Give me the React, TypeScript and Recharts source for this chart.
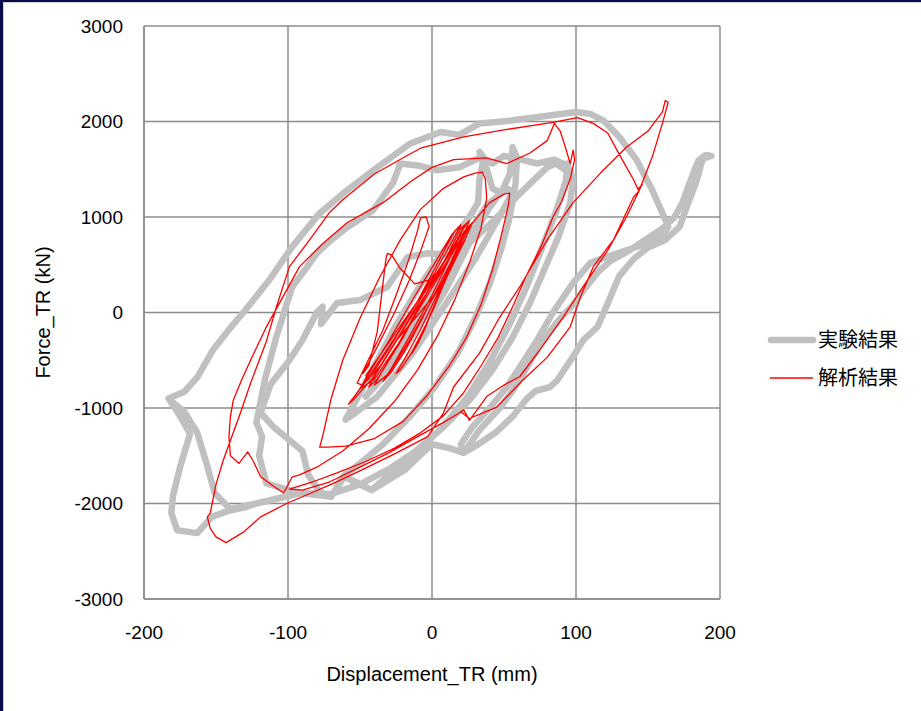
import React from 'react';
import { LineChart, Line, XAxis, YAxis, CartesianGrid } from 'recharts';

type Pt = [number, number];

const xTicks = [-200, -100, 0, 100, 200];
const yTicks = [-3000, -2000, -1000, 0, 1000, 2000, 3000];

const expName = '実験結果';
const anaName = '解析結果';

const expCore: Pt[] = [
  [0, 0], [10, 250], [20, 550], [30, 850], [26, 820], [12, 480], [-4, 120], [-18, -260], [-30, -560], [-24, -480], [-10, -160],
  [5, 200], [20, 620], [34, 980], [44, 1180], [40, 1100], [26, 740], [6, 260], [-14, -240], [-34, -680], [-46, -880], [-38, -720], [-20, -320],
  [0, 180], [18, 660], [38, 1120], [52, 1300], [56, 1260], [46, 980], [30, 560], [10, 100], [-14, -440], [-38, -880], [-54, -1060], [-60, -1120],
];

const expMid1: Pt[] = [
  [-52, -900], [-40, -560], [-26, -160], [-10, 240], [4, 560], [16, 800], [26, 1000], [32, 1150], [33, 1400], [36, 1620], [33, 1680],
  [38, 1500], [42, 1300], [48, 1250], [54, 1450], [56, 1730], [59, 1620], [58, 1350], [54, 1000], [48, 660], [40, 300], [30, -60],
  [18, -420], [2, -780], [-16, -1100], [-34, -1380], [-50, -1580], [-62, -1720], [-70, -1930], [-78, -1880], [-86, -1700], [-90, -1450],
];

const expMid2: Pt[] = [
  [-110, -1200], [-119, -1050], [-112, -750], [-100, -520], [-90, -290], [-80, 0], [-76, 60], [-77, -120], [-70, 20], [-66, 100],
  [-50, 130], [-31, 270], [-17, 580], [-3, 620], [15, 600], [30, 780], [44, 980], [58, 1200], [73, 1420], [80, 1520], [86, 1560],
  [92, 1500], [94, 1560], [93, 1380], [86, 1050], [76, 660], [66, 280], [54, -120], [40, -520], [24, -900], [6, -1220], [-14, -1500],
  [-30, -1700], [-42, -1860], [-52, -1780], [-61, -1720], [-70, -1930], [-82, -1900], [-91, -1890], [-104, -1840], [-115, -1790],
  [-120, -1500], [-118, -1300], [-122, -1150],
];

const expMid3: Pt[] = [
  [-116, -700], [-108, -250], [-97, 270], [-88, 450], [-80, 620], [-70, 760], [-59, 890], [-41, 1070], [-27, 1360], [-22, 1560],
  [-10, 1540], [3, 1490], [19, 1520], [33, 1620], [42, 1560], [50, 1640], [62, 1600], [73, 1560], [85, 1600], [94, 1540], [98, 1400],
  [96, 1150], [88, 800], [78, 450], [68, 100], [56, -260], [42, -600], [26, -920], [8, -1200], [-12, -1460], [-30, -1640], [-50, -1800],
  [-70, -1900], [-91, -1890], [-110, -1960], [-122, -2000], [-130, -2040], [-142, -2080], [-153, -2140], [-163, -2310], [-177, -2280],
  [-181, -2100], [-180, -1930],
];

const expLoopA: Pt[] = [
  [-175, -1620], [-168, -1270], [-176, -1060], [-183, -900], [-172, -830], [-163, -680], [-152, -390], [-140, -160], [-131, 0],
  [-113, 340], [-97, 690], [-78, 1040], [-59, 1280], [-38, 1520], [-15, 1770], [6, 1890], [19, 1860], [33, 1980], [55, 2010],
  [75, 2050], [100, 2100], [110, 2080], [119, 2010], [130, 1840], [142, 1600], [153, 1280], [160, 1040], [164, 900], [160, 800],
  [148, 720], [135, 650], [121, 580], [110, 520], [98, 310], [84, 0], [73, -290], [61, -570], [52, -780], [40, -1000], [28, -1200],
  [20, -1380],
];

const expLoopB: Pt[] = [
  [22, -1470], [33, -1230], [47, -1000], [56, -820], [63, -650], [75, -330], [88, -80], [98, 80], [106, 250], [115, 420], [124, 540],
  [136, 640], [148, 760], [160, 880], [168, 990], [174, 1150], [178, 1320], [182, 1480], [185, 1590], [190, 1650], [194, 1640],
  [188, 1610], [184, 1390], [177, 1110], [172, 900], [162, 760], [150, 680], [140, 560], [130, 380], [121, 60], [115, -150],
  [105, -290], [98, -460], [87, -710], [82, -780], [72, -820], [66, -900], [56, -1090], [44, -1260], [30, -1400], [22, -1470],
  [12, -1420], [0, -1380],
];

const expTail: Pt[] = [
  [-10, -1520], [-19, -1650], [-42, -1860], [-61, -1720], [-70, -1930], [-91, -1890], [-122, -2000], [-140, -2060], [-151, -1890],
  [-156, -1610], [-163, -1260], [-172, -1040], [-182, -920],
];

// analysis (thin red)
const anaCore: Pt[] = [
  [0, 0], [6, 220], [12, 430], [16, 560], [11, 420], [4, 160], [-4, -140], [-10, -330], [-14, -430], [-9, -300], [-2, -60],
  [6, 240], [14, 520], [20, 700], [23, 760], [17, 580], [8, 300], [-4, -120], [-14, -420], [-22, -600], [-25, -640], [-18, -460], [-8, -180],
  [4, 200], [14, 560], [22, 820], [26, 900], [20, 720], [8, 380], [-6, -40], [-18, -380], [-28, -620], [-34, -720], [-28, -580], [-16, -260],
  [0, 180], [12, 560], [20, 840], [24, 930], [22, 880], [12, 620], [0, 300], [-12, -20], [-26, -400], [-38, -700], [-44, -780], [-38, -620], [-24, -280],
  [6, 260], [16, 620], [24, 880], [28, 940], [24, 800], [12, 450], [-2, 80], [-16, -300], [-30, -640], [-40, -760], [-34, -600], [-20, -260],
  [-4, 200], [10, 580], [20, 880], [26, 960], [22, 820], [8, 460], [-8, 60], [-24, -340], [-40, -700], [-50, -800], [-44, -640], [-30, -300],
  [-14, 120], [2, 520], [14, 820], [20, 920], [16, 800], [2, 420], [-14, 20], [-30, -380], [-44, -700], [-46, -660],
  [-10, 120], [4, 520], [16, 860], [22, 900], [18, 760], [6, 480], [-8, 140], [-22, -220], [-36, -560], [-48, -760], [-52, -740],
];

const anaMid: Pt[] = [
  [-45, -520], [-34, -180], [-24, 220], [-16, 560], [-10, 860], [-8, 990], [-4, 1000], [-2, 900], [-8, 640], [-16, 330], [-26, 0],
  [-38, -360], [-48, -640], [-44, -560], [-38, -200], [-34, 310], [-32, 560], [-31, 620], [-28, 600], [-22, 460], [-12, 300], [0, 350],
  [10, 560], [18, 760], [24, 880], [20, 760], [6, 430], [-10, 60], [-26, -330], [-42, -700], [-55, -920], [-58, -960],
  [-48, -760], [-30, -360], [-10, 120], [10, 560], [26, 900], [40, 1150], [50, 1240], [54, 1250], [53, 1120], [48, 800], [42, 450],
  [34, 80], [24, -260], [12, -560], [-4, -880], [-20, -1140], [-40, -1320], [-60, -1400], [-72, -1410], [-78, -1410], [-76, -1300],
];

const anaLoop3: Pt[] = [
  [-70, -900], [-62, -500], [-50, -60], [-36, 380], [-22, 760], [-8, 1080], [8, 1300], [22, 1420], [30, 1460], [35, 1470], [37, 1400],
  [38, 1200], [34, 880], [26, 520], [16, 140], [4, -240], [-10, -600], [-26, -930], [-44, -1220], [-62, -1450], [-80, -1620],
  [-92, -1700], [-97, -1720], [-103, -1890], [-110, -1820], [-119, -1720], [-124, -1560], [-128, -1460], [-134, -1580], [-140, -1500],
  [-141, -1300], [-140, -1090],
];

const anaLoop4: Pt[] = [
  [-138, -920], [-132, -700], [-126, -500], [-115, -150], [-104, 150], [-92, 480], [-76, 720], [-59, 940], [-34, 1150], [-14, 1380],
  [0, 1520], [15, 1600], [38, 1620], [52, 1560], [68, 1670], [80, 1800], [85, 1980], [89, 1900], [92, 1760], [96, 1560], [98, 1700],
  [99, 1600], [96, 1400], [90, 1160], [84, 1000], [76, 700], [66, 400], [56, 60], [46, -260], [34, -560], [22, -840], [8, -1080],
  [-8, -1260], [-26, -1420], [-46, -1560], [-66, -1680], [-84, -1780], [-99, -1850], [-90, -1860], [-72, -1780], [-50, -1620],
  [-30, -1470], [-10, -1300], [8, -1150], [18, -1060], [22, -1020],
];

const anaLoop5: Pt[] = [
  [26, -1130], [38, -880], [50, -760], [61, -670], [75, -390], [91, -50], [108, 340], [122, 650], [135, 1000], [144, 1280], [153, 1630],
  [160, 1980], [164, 2200], [162, 2220], [160, 2100], [150, 1900], [135, 1730], [117, 1460], [98, 1150], [80, 760], [61, 270], [47, -50],
  [33, -425], [15, -780], [8, -1050], [-3, -1300], [-26, -1480], [-49, -1650], [-70, -1800], [-84, -1890], [-101, -2000], [-119, -2140],
  [-131, -2300], [-143, -2410], [-150, -2350], [-154, -2260], [-156, -2140], [-154, -2100], [-150, -1800], [-145, -1550], [-140, -1340],
  [-133, -1050], [-126, -740], [-115, -300], [-108, 60], [-99, 480], [-85, 760], [-71, 1050], [-62, 1180], [-40, 1450], [-20, 1620],
  [-8, 1720], [22, 1840], [49, 1910], [84, 1990], [101, 2040], [112, 1980], [122, 1880], [131, 1630], [140, 1390], [143, 1290],
  [146, 1340], [143, 1260], [140, 1210], [126, 760], [112, 480], [103, 160], [96, -150], [80, -470], [63, -710], [45, -990],
  [26, -1110], [20, -1040],
];

const toRows = (segs: Pt[][]) => segs.flat().map(([x, y]) => ({ x, y }));

const expData = toRows([expCore, expMid1, expMid2, expMid3, expLoopA, expLoopB, expTail]);
const anaData = toRows([anaCore, anaMid, anaLoop3, anaLoop4, anaLoop5]);

const FONT = "'Liberation Sans', Arial, 'Noto Sans CJK JP', sans-serif";
const GRID = '#8c8c8c';

const App: React.FC = () => {
  return (
    <div style={{ position: 'relative', width: 921, height: 711, background: '#fff', overflow: 'hidden', fontFamily: FONT }}>
      <style>{'body{margin:0}'}</style>
      {/* window frame */}
      <div style={{ position: 'absolute', left: 0, top: 0, width: 921, height: 2, background: '#0b0b4c' }} />
      <div style={{ position: 'absolute', left: 0, top: 0, width: 3, height: 711, background: '#0b0b4c' }} />
      <div style={{ position: 'absolute', left: 3, top: 2, width: 918, height: 1, background: '#cfcfcf' }} />
      <div style={{ position: 'absolute', left: 3, top: 2, width: 1, height: 709, background: '#cfcfcf' }} />

      <LineChart width={921} height={711} margin={{ top: 26, right: 201, bottom: 52, left: 44 }}>
        <CartesianGrid stroke={GRID} strokeWidth={1.5} />
        <XAxis
          type="number"
          dataKey="x"
          domain={[-200, 200]}
          ticks={xTicks}
          height={60}
          tickLine={false}
          tickMargin={21}
          axisLine={{ stroke: GRID, strokeWidth: 1.5 }}
          tick={{ fontSize: 19, fill: '#000', fontFamily: FONT }}
          allowDataOverflow
          label={{ value: 'Displacement_TR (mm)', position: 'bottom', offset: 8, fontSize: 20, fill: '#000', fontFamily: FONT }}
        />
        <YAxis
          type="number"
          dataKey="y"
          domain={[-3000, 3000]}
          ticks={yTicks}
          width={100}
          tickLine={false}
          tickMargin={15}
          axisLine={{ stroke: GRID, strokeWidth: 1.5 }}
          tick={{ fontSize: 19, fill: '#000', fontFamily: FONT }}
          allowDataOverflow
          label={{
            value: 'Force_TR (kN)',
            angle: -90,
            position: 'insideLeft',
            offset: -1,
            fontSize: 20,
            fill: '#000',
            fontFamily: FONT,
            style: { textAnchor: 'middle' },
          }}
        />
        <Line
          data={expData}
          dataKey="y"
          name={expName}
          type="linear"
          stroke="#c0c0c0"
          strokeWidth={6.5}
          strokeLinejoin="round"
          strokeLinecap="round"
          dot={false}
          activeDot={false}
          isAnimationActive={false}
        />
        <Line
          data={anaData}
          dataKey="y"
          name={anaName}
          type="linear"
          stroke="#ff0000"
          strokeWidth={1.3}
          strokeLinejoin="round"
          dot={false}
          activeDot={false}
          isAnimationActive={false}
        />
      </LineChart>

      {/* legend */}
      <div style={{ position: 'absolute', left: 766, top: 326, fontSize: 20, color: '#000', lineHeight: '28px' }}>
        <div style={{ display: 'flex', alignItems: 'center', height: 28, marginBottom: 10 }}>
          <svg width={52} height={10}>
            <line x1={5} y1={5} x2={47} y2={5} stroke="#c0c0c0" strokeWidth={6.5} strokeLinecap="round" />
          </svg>
          <span>{expName}</span>
        </div>
        <div style={{ display: 'flex', alignItems: 'center', height: 28 }}>
          <svg width={52} height={10}>
            <line x1={4} y1={5} x2={47} y2={5} stroke="#ff0000" strokeWidth={1.3} />
          </svg>
          <span>{anaName}</span>
        </div>
      </div>
    </div>
  );
};

export default App;
